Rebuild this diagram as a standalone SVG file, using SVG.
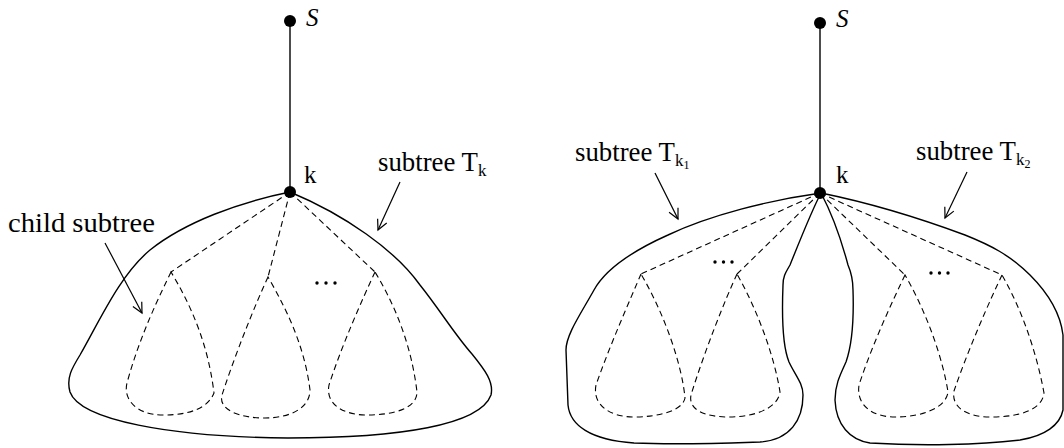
<svg xmlns="http://www.w3.org/2000/svg" width="1064" height="448" viewBox="0 0 1064 448">
<style>
.o{fill:none;stroke:#000;stroke-width:1.4}
.d{fill:none;stroke:#000;stroke-width:1.1;stroke-dasharray:6,4}
.t{font-family:"Liberation Serif",serif;font-size:27px;fill:#000}
.l{font-family:"Liberation Serif",serif;font-size:25px;fill:#000}
.dot{fill:#000}
</style>
<defs>
<marker id="ah" markerWidth="14" markerHeight="14" refX="12" refY="6" orient="auto" markerUnits="userSpaceOnUse">
<path d="M2,1 L12,6 L2,11" fill="none" stroke="#000" stroke-width="1.2"/>
</marker>
</defs>
<rect width="1064" height="448" fill="#fff"/>
<g id="connectors">
<line x1="290" y1="21" x2="290" y2="192" stroke="#000" stroke-width="1.4"/>
<line x1="820" y1="23" x2="820" y2="193" stroke="#000" stroke-width="1.4"/>
<line x1="105" y1="243" x2="142" y2="313" stroke="#000" stroke-width="1.2" marker-end="url(#ah)"/>
<line x1="400" y1="182" x2="378" y2="230" stroke="#000" stroke-width="1.2" marker-end="url(#ah)"/>
<line x1="655" y1="173" x2="678" y2="219" stroke="#000" stroke-width="1.2" marker-end="url(#ah)"/>
<line x1="967" y1="172" x2="945" y2="218" stroke="#000" stroke-width="1.2" marker-end="url(#ah)"/>
<path class="d" d="M290,192 L171,272 M290,192 L268,277 M290,192 L375,272"/>
<path class="d" d="M820,193 L641,274 M820,193 L737,274 M820,193 L905,275 M820,193 L1002,275"/>
</g>
<g id="tree-Tk">
<path class="o" d="M290,192 C240,202 185,222 150,250 C120,275 100,320 80,355 C72,368 66,378 70,392 C80,420 170,437 288,438 C400,438 480,425 491,395 C494,382 485,370 472,354 C455,335 440,310 420,285 C395,250 345,215 290,192 Z"/>
</g>
<g id="child1"><path class="d" d="M171,272 C160,295 140,335 127,383 C123,398 135,415 163,415 C190,415 208,408 214,393 C210,360 200,320 171,272 Z"/></g>
<g id="child2"><path class="d" d="M268,277 C255,305 235,355 222,395 C218,410 240,418 265,418 C290,418 310,408 310,390 C305,350 290,315 268,277 Z"/></g>
<g id="child3"><path class="d" d="M375,272 C362,300 342,345 329,385 C325,405 345,415 366,415 C395,415 417,408 417,392 C412,350 398,310 375,272 Z"/></g>
<g id="dots1"><circle class="dot" cx="317" cy="283" r="1.7"/><circle class="dot" cx="326" cy="283" r="1.7"/><circle class="dot" cx="335" cy="283" r="1.7"/></g>
<g id="node-S1"><circle class="dot" cx="290" cy="21" r="6"/><text class="l" x="306" y="26" font-style="italic">S</text></g>
<g id="node-k1"><circle class="dot" cx="290" cy="192" r="6"/><text class="l" x="304" y="183">k</text></g>
<g id="label-child"><text class="t" x="8" y="232" textLength="147" lengthAdjust="spacingAndGlyphs">child subtree</text></g>
<g id="label-Tk"><text class="t" x="378" y="171"><tspan textLength="100" lengthAdjust="spacingAndGlyphs">subtree T</tspan><tspan font-size="17" dy="5">k</tspan></text></g>

<g id="tree-Tk1">
<path class="o" d="M821,193 C770,200 710,215 668,235 C630,252 605,270 594,290 C580,315 566,335 566,350 L568,405 C570,425 590,440 634,443 C680,445 730,443 760,442 C790,440 803,420 803,395 C803,383 795,375 789,362 C782,345 782,310 783,285 C783,276 786,272 790,265 C800,240 812,210 821,193 Z"/>
</g>
<g id="tree-Tk2">
<path class="o" d="M821,193 C830,210 840,235 848,265 C851,272 853,278 853,290 C854,320 852,345 846,362 C840,375 835,385 835,400 C836,425 850,440 870,443 C920,446 980,445 1020,440 C1045,436 1060,425 1063,410 L1063,335 C1060,310 1045,290 1030,275 C1010,255 990,245 965,235 C930,222 880,205 821,193 Z"/>
</g>
<g id="child4"><path class="d" d="M641,274 C630,300 610,345 596,385 C592,405 610,417 634,417 C660,417 683,410 685,398 C682,365 665,315 641,274 Z"/></g>
<g id="child5"><path class="d" d="M737,274 C725,300 705,350 691,395 C688,410 705,417 729,417 C755,417 778,408 780,392 C775,360 760,315 737,274 Z"/></g>
<g id="child6"><path class="d" d="M905,275 C893,300 872,345 859,385 C856,405 872,417 895,417 C922,417 946,408 948,392 C943,360 928,315 905,275 Z"/></g>
<g id="child7"><path class="d" d="M1002,275 C990,300 968,350 954,391 C951,408 968,417 990,417 C1020,417 1042,410 1044,393 C1038,360 1025,315 1002,275 Z"/></g>
<g id="dots2"><circle class="dot" cx="715" cy="262" r="1.7"/><circle class="dot" cx="723.5" cy="262" r="1.7"/><circle class="dot" cx="732" cy="262" r="1.7"/></g>
<g id="dots3"><circle class="dot" cx="931" cy="273" r="1.7"/><circle class="dot" cx="939.5" cy="273" r="1.7"/><circle class="dot" cx="948" cy="273" r="1.7"/></g>
<g id="node-S2"><circle class="dot" cx="820" cy="23" r="6"/><text class="l" x="836" y="27" font-style="italic">S</text></g>
<g id="node-k2"><circle class="dot" cx="820" cy="193" r="6"/><text class="l" x="836" y="183">k</text></g>
<g id="label-Tk1"><text class="t" x="575" y="161"><tspan textLength="100" lengthAdjust="spacingAndGlyphs">subtree T</tspan><tspan font-size="17" dy="5">k</tspan><tspan font-size="12" dy="3">1</tspan></text></g>
<g id="label-Tk2"><text class="t" x="916" y="160"><tspan textLength="100" lengthAdjust="spacingAndGlyphs">subtree T</tspan><tspan font-size="17" dy="5">k</tspan><tspan font-size="12" dy="3">2</tspan></text></g>
</svg>
